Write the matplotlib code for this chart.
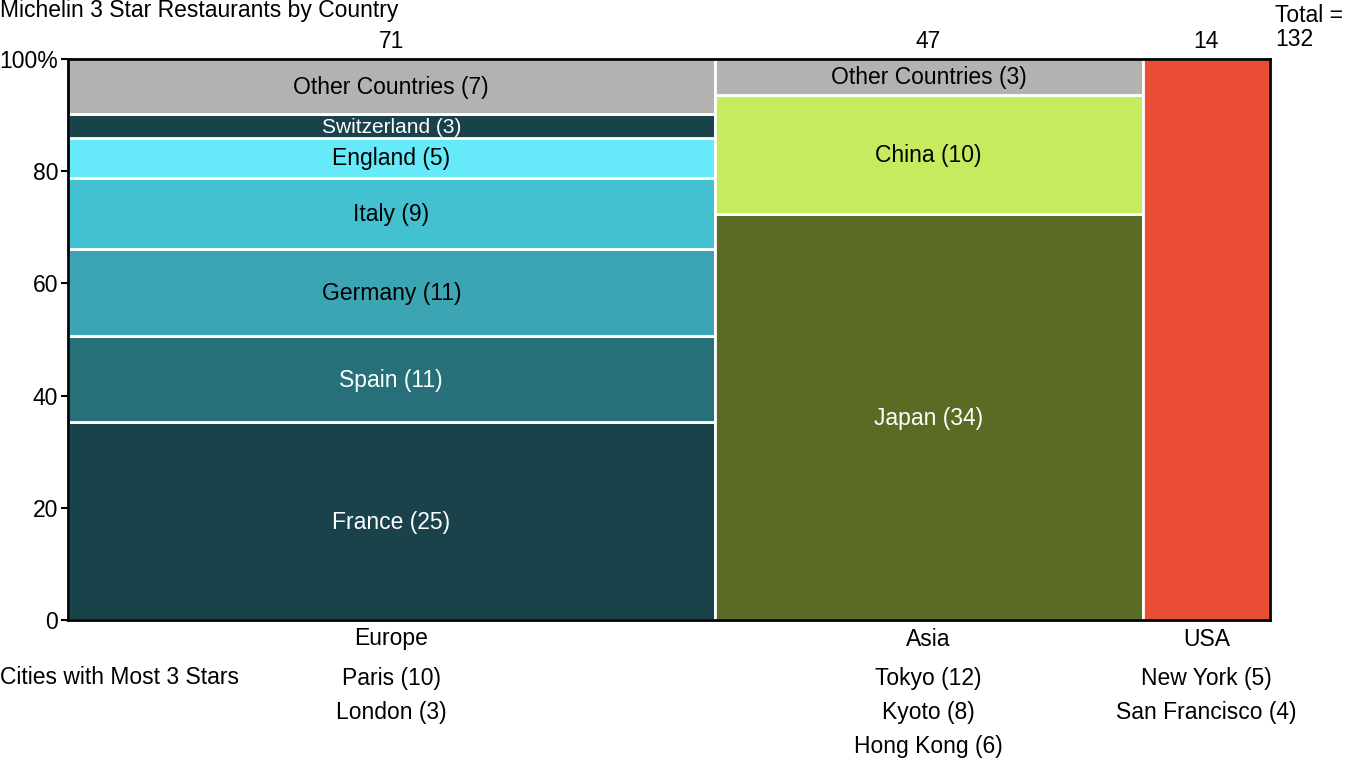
import numpy as np
import matplotlib.pyplot as plt

plt.rcParams['font.family'] = ['Liberation Sans', 'DejaVu Sans']

# regiones (columnas) y sus paises apilados de abajo hacia arriba
regiones = ['Europe', 'Asia', 'USA']
paises = [
    ['France', 'Spain', 'Germany', 'Italy', 'England', 'Switzerland', 'Other Countries'],
    ['Japan', 'China', 'Other Countries'],
    ['USA'],
]
restaurantes = [
    [25, 11, 11, 9, 5, 3, 7],
    [34, 10, 3],
    [14],
]
colores = [
    ['#19424a', '#27707a', '#3ba5b4', '#44c1d1', '#66e9f8', '#19424a', '#b3b2b1'],
    ['#5a6b24', '#c6eb5f', '#b3b2b1'],
    ['#ea4e35'],
]
color_texto = [
    ['white', 'white', 'black', 'black', 'black', 'white', 'black'],
    ['white', 'black', 'black'],
    [None],
]
ciudades = [
    ['Paris (10)', 'London (3)'],
    ['Tokyo (12)', 'Kyoto (8)', 'Hong Kong (6)'],
    ['New York (5)', 'San Francisco (4)'],
]

totales = [sum(r) for r in restaurantes]
total = sum(totales)
izquierdas = np.concatenate(([0], np.cumsum(totales)[:-1]))

FS = 16.5  # tamaño de letra general

fig = plt.figure(figsize=(13.45, 7.59), dpi=100)
ax = fig.add_axes([68 / 1345, 1 - 620 / 759, 1202 / 1345, 561 / 759])

for i, region in enumerate(regiones):
    pct = np.array(restaurantes[i]) / totales[i] * 100
    base = np.concatenate(([0], np.cumsum(pct)[:-1]))
    ax.bar(izquierdas[i], pct, bottom=base, width=totales[i], align='edge',
           color=colores[i], edgecolor='white', linewidth=2)
    centro = izquierdas[i] + totales[i] / 2
    for j, pais in enumerate(paises[i]):
        if color_texto[i][j] is None:
            continue
        size = 15 if pct[j] < 5 else FS
        ax.annotate(f'{pais} ({restaurantes[i][j]})', xy=(centro, base[j] + pct[j] / 2),
                    xytext=(0, -1), textcoords='offset pixels',
                    ha='center', va='center', fontsize=size, color=color_texto[i][j])
    ax.annotate(str(totales[i]), xy=(centro, 100), xytext=(0, 6),
                textcoords='offset pixels', ha='center', va='bottom', fontsize=FS)
    ax.annotate(region, xy=(centro, 0), xytext=(0, -19),
                textcoords='offset pixels', ha='center', va='center', fontsize=FS)
    for k, ciudad in enumerate(ciudades[i]):
        ax.annotate(ciudad, xy=(centro, 0), xytext=(0, -58 - 34 * k),
                    textcoords='offset pixels', ha='center', va='center', fontsize=FS)

ax.set_xlim(0, total)
ax.set_ylim(0, 100)
ax.set_yticks([0, 20, 40, 60, 80, 100])
ax.set_yticklabels(['0', '20', '40', '60', '80', '100%'], fontsize=FS)
ax.set_xticks([])
ax.tick_params(axis='y', length=5, width=1.5, pad=2)
for s in ax.spines.values():
    s.set_linewidth(2)
    s.set_zorder(5)

fig.text(0, 1 - 11 / 759, 'Michelin 3 Star Restaurants by Country',
         ha='left', va='center', fontsize=FS)
fig.text(1275 / 1345, 1 - 16 / 759, 'Total =', ha='left', va='center', fontsize=FS)
fig.text(1275 / 1345, 1 - 40 / 759, str(total), ha='left', va='center', fontsize=FS)
fig.text(0, 1 - 678 / 759, 'Cities with Most 3 Stars', ha='left', va='center', fontsize=FS)

fig.savefig('out.png', dpi=100)
